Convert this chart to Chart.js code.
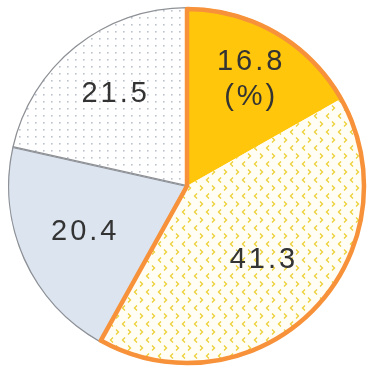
<!DOCTYPE html>
<html>
<head>
<meta charset="utf-8">
<script src="https://cdn.jsdelivr.net/npm/chart.js@4/dist/chart.umd.min.js"></script>
<style>
  html, body { margin: 0; padding: 0; background: #fff; }
  #wrap { width: 370px; height: 371px; }
</style>
</head>
<body>
<div id="wrap"><canvas id="pieChart"></canvas></div>
<script>
const categories = ['A', 'B', 'C', 'D'];
const shares = [16.8, 41.3, 20.4, 21.5];
const unitLabel = '(%)';

// tile patterns
function chevronPattern() {
    const c = document.createElement('canvas');
    c.width = 12; c.height = 16;
    const g = c.getContext('2d');
    g.fillStyle = '#fffdf4';
    g.fillRect(0, 0, 12, 16);
    g.strokeStyle = '#ecd035';
    g.lineWidth = 1.3;
    g.beginPath();
    g.moveTo(5, 1.5); g.lineTo(2.5, 4); g.lineTo(5, 6.5);
    g.moveTo(8, 9.5); g.lineTo(10.5, 12); g.lineTo(8, 14.5);
    g.stroke();
    return g.createPattern(c, 'repeat');
}
function dotPattern() {
    const c = document.createElement('canvas');
    c.width = 8; c.height = 7;
    const g = c.getContext('2d');
    g.fillStyle = '#ffffff';
    g.fillRect(0, 0, 8, 7);
    g.fillStyle = '#bcc3ce';
    g.fillRect(3, 3, 1.6, 1.6);
    return g.createPattern(c, 'repeat');
}

const labelRadius = [0.69, 0.59, 0.635, 0.655];

const pieLabels = {
    id: 'pieLabels',
    afterDatasetsDraw(chart) {
        const ctx = chart.ctx;
        const arcs = chart.getDatasetMeta(0).data;
        // orange outline around the first two slices
        const a0 = arcs[0], a1 = arcs[1];
        const r = a0.outerRadius - 2;
        ctx.save();
        ctx.strokeStyle = '#f7923a';
        ctx.lineWidth = 4.5;
        ctx.lineJoin = 'round';
        ctx.beginPath();
        ctx.moveTo(a0.x, a0.y);
        ctx.arc(a0.x, a0.y, r, a0.startAngle, a1.endAngle);
        ctx.closePath();
        ctx.stroke();
        ctx.restore();

        ctx.save();
        ctx.fillStyle = '#333333';
        ctx.font = '29px "Liberation Sans", Arial, sans-serif';
        ctx.letterSpacing = '3px';
        ctx.textAlign = 'center';
        ctx.textBaseline = 'middle';
        arcs.forEach((arc, i) => {
            const mid = (arc.startAngle + arc.endAngle) / 2;
            const rr = arc.outerRadius * labelRadius[i];
            const x = arc.x + Math.cos(mid) * rr + 2;
            const y = arc.y + Math.sin(mid) * rr;
            const txt = shares[i].toFixed(1);
            if (i === 0) {
                ctx.fillText(txt, x, y - 17);
                ctx.fillText(unitLabel, x, y + 18);
            } else {
                ctx.fillText(txt, x, y);
            }
        });
        ctx.restore();
    }
};

new Chart(document.getElementById('pieChart'), {
    type: 'pie',
    data: {
        labels: categories,
        datasets: [{
            data: shares,
            backgroundColor: ['#ffc60b', chevronPattern(), '#dce4f0', dotPattern()],
            borderColor: ['#ffc60b', '#fffdf4', '#8e9196', '#8e9196'],
            borderWidth: [0, 0, 1, 1],
            borderAlign: 'inner'
        }]
    },
    options: {
        responsive: true,
        maintainAspectRatio: false,
        animation: false,
        layout: { padding: { left: 8, right: 4, top: 7, bottom: 6 } },
        plugins: {
            legend: { display: false },
            tooltip: { enabled: false }
        }
    },
    plugins: [pieLabels]
});
</script>
</body>
</html>
